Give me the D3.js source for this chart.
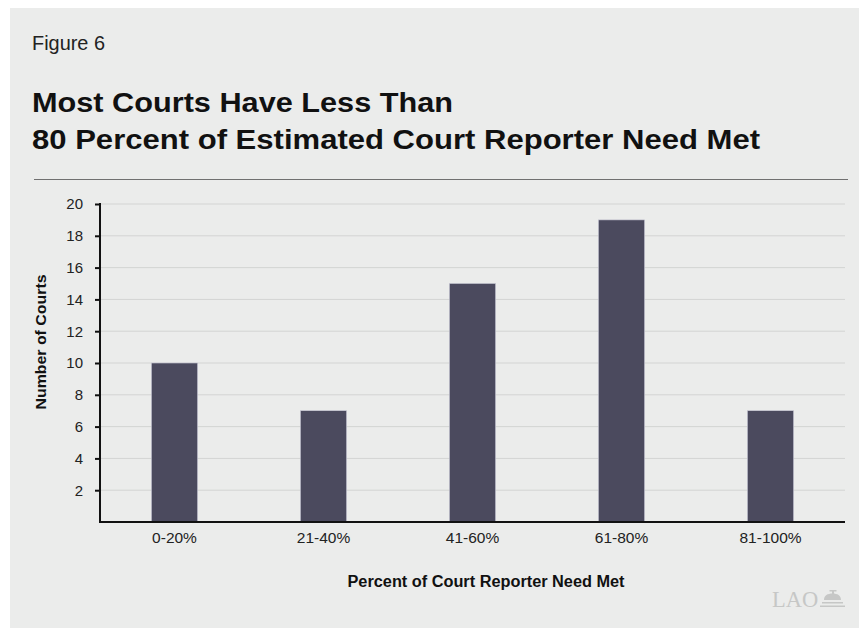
<!DOCTYPE html>
<html>
<head>
<meta charset="utf-8">
<script src="https://cdn.jsdelivr.net/npm/d3@7"></script>
<style>
  html, body { margin: 0; padding: 0; background: #ffffff; }
  svg { display: block; }
</style>
</head>
<body>
<script>
const categories = ["0-20%", "21-40%", "41-60%", "61-80%", "81-100%"];
const values = [10, 7, 15, 19, 7];
const yTicks = [2, 4, 6, 8, 10, 12, 14, 16, 18, 20];

const SANS = "Liberation Sans, Arial, Helvetica, sans-serif";
const W = 859, H = 628;
const svg = d3.select("body").append("svg").attr("width", W).attr("height", H)
  .style("font-family", SANS);

// panel
svg.append("rect").attr("x", 10).attr("y", 8).attr("width", W - 10).attr("height", H - 8).attr("fill", "#ebeceb");

svg.append("text").attr("x", 32).attr("y", 50).attr("font-size", 19.5).attr("fill", "#222")
  .attr("textLength", 73).attr("lengthAdjust", "spacingAndGlyphs")
  .text("Figure 6");

const titleLines = ["Most Courts Have Less Than", "80 Percent of Estimated Court Reporter Need Met"];
const titleWidths = [421, 728];
svg.append("g").selectAll("text").data(titleLines).join("text")
  .attr("x", 32).attr("y", (d, i) => 112 + i * 37)
  .attr("font-size", 27).attr("font-weight", "bold").attr("fill", "#111")
  .attr("textLength", (d, i) => titleWidths[i]).attr("lengthAdjust", "spacingAndGlyphs")
  .text(d => d);

svg.append("line").attr("x1", 34).attr("x2", 848).attr("y1", 179.5).attr("y2", 179.5)
  .attr("stroke", "#707070").attr("stroke-width", 1.2);

const x0 = 100, x1 = 845, yTop = 204, yBase = 522;
const x = d3.scaleBand().domain(categories).range([x0, x1]).paddingInner(0.69).paddingOuter(0.345);
const y = d3.scaleLinear().domain([0, 20]).range([yBase, yTop]);

// gridlines
svg.append("g").selectAll("line").data(yTicks).join("line")
  .attr("x1", x0).attr("x2", x1).attr("y1", d => y(d)).attr("y2", d => y(d))
  .attr("stroke", "#d3d4d3").attr("stroke-width", 1);

// bars
svg.append("g").selectAll("rect").data(values).join("rect")
  .attr("x", (d, i) => x(categories[i])).attr("width", x.bandwidth())
  .attr("y", d => y(d)).attr("height", d => yBase - y(d))
  .attr("fill", "#4b4a5e").attr("stroke", "#c9c8d6").attr("stroke-width", 0.6);

// y axis
const yAxis = d3.axisLeft(y).tickValues(yTicks).tickSize(5).tickPadding(12);
const gy = svg.append("g").attr("transform", `translate(${x0},0)`).call(yAxis);
gy.select(".domain").attr("stroke", "#111").attr("stroke-width", 2).attr("d", `M0,${yTop - 1}V${yBase}`);
gy.selectAll(".tick line").attr("stroke", "#111").attr("stroke-width", 2);
gy.selectAll(".tick text").attr("font-size", 15).attr("fill", "#222").attr("font-family", SANS);

// x axis
const xAxis = d3.axisBottom(x).tickSize(0).tickPadding(10);
const gx = svg.append("g").attr("transform", `translate(0,${yBase})`).call(xAxis);
gx.select(".domain").attr("stroke", "#111").attr("stroke-width", 2).attr("d", `M${x0 - 1},0H${x1}`);
gx.selectAll(".tick text").attr("font-size", 15.5).attr("fill", "#222").attr("font-family", SANS);

// axis titles
svg.append("text").attr("transform", "translate(46,342) rotate(-90)")
  .attr("text-anchor", "middle").attr("font-size", 15).attr("font-weight", "bold").attr("fill", "#111")
  .attr("textLength", 135).attr("lengthAdjust", "spacingAndGlyphs")
  .text("Number of Courts");
svg.append("text").attr("x", 486).attr("y", 587).attr("text-anchor", "middle")
  .attr("font-size", 16).attr("font-weight", "bold").attr("fill", "#111")
  .attr("textLength", 277).attr("lengthAdjust", "spacingAndGlyphs")
  .text("Percent of Court Reporter Need Met");

// LAO logo
const logo = svg.append("g").attr("fill", "#c6c7c6");
logo.append("text").attr("x", 772).attr("y", 607)
  .style("font-family", "Liberation Serif, Times New Roman, serif")
  .attr("font-size", 22.5).attr("fill", "#c6c7c6").text("LAO");
logo.append("g").attr("transform", "translate(2,0)")
  .append("path").attr("d", "M818,607 h25 v-1.6 h-25 Z M820,603.5 h21 v-1.6 h-21 Z M822,600 h17 c0,-4.5 -3.5,-6.5 -8.5,-6.5 c-5,0 -8.5,2 -8.5,6.5 Z M830,593.5 h2 v-2.5 h-2 Z M827.5,591.5 h7 v-1.5 h-7 Z");
</script>
</body>
</html>
